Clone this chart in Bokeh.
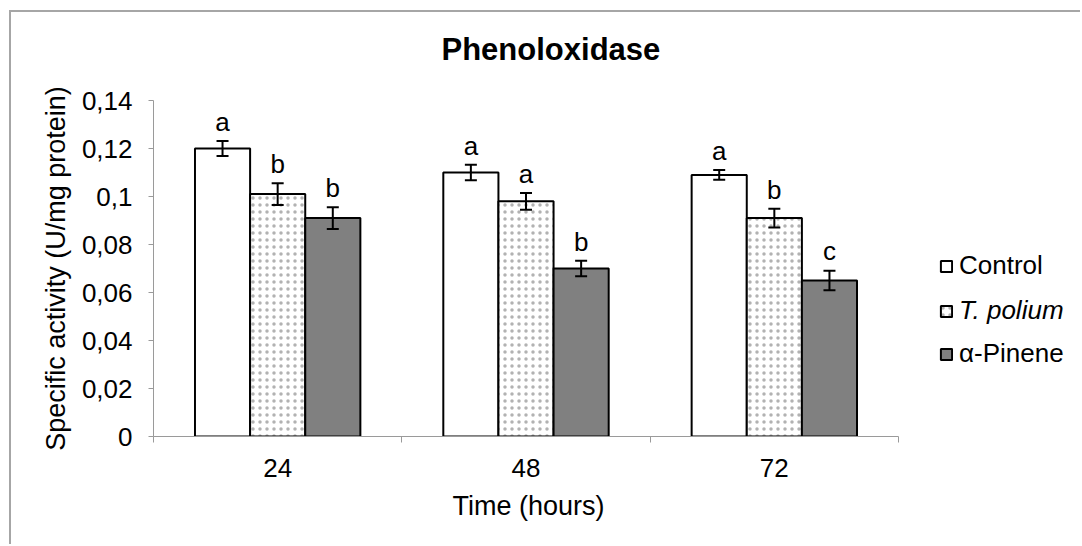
from bokeh.plotting import figure
from bokeh.models import (ColumnDataSource, Range1d, FixedTicker, Whisker, TeeHead,
                          Legend, LegendItem, Title)
from bokeh.core.properties import value
from bokeh.embed import file_html
from bokeh.resources import INLINE

# ---------------- data ----------------
times = ["24", "48", "72"]
series_names = ["Control", "T. polium", "α-Pinene"]
control = [0.120, 0.110, 0.109]
control_err = [0.0031, 0.0032, 0.0020]
control_letters = ["a", "a", "a"]
tpolium = [0.101, 0.098, 0.091]
tpolium_err = [0.0045, 0.0035, 0.0039]
tpolium_letters = ["b", "a", "b"]
pinene = [0.091, 0.070, 0.065]
pinene_err = [0.0045, 0.0032, 0.0041]
pinene_letters = ["b", "b", "c"]
y_ticks = [0, 0.02, 0.04, 0.06, 0.08, 0.1, 0.12, 0.14]
y_tick_labels = ["0", "0,02", "0,04", "0,06", "0,08", "0,1", "0,12", "0,14"]
y_max = 0.14
title_text = "Phenoloxidase"
x_title = "Time (hours)"
y_title = "Specific activity (U/mg protein)"

FONT = "Liberation Sans"
AXIS_GRAY = "#9a9a9a"

# geometry (pixels): canvas starts after a 2px border at (11, 12)
W, H = 1071, 534
plot_left, plot_top, plot_w, plot_bottom = 142, 88, 745, 110
frame_w = W - plot_left
x_end = len(times) * frame_w / plot_w

p = figure(width=W, height=H, output_backend="svg", toolbar_location=None,
           x_range=Range1d(0, x_end), y_range=Range1d(0, y_max),
           min_border_left=plot_left, min_border_right=0, min_border_top=plot_top,
           min_border_bottom=plot_bottom, title_location=None)
p.margin = (10, 0, 0, 9)
p.styles = {"border-left": "2px solid #a6a6a6", "border-top": "2px solid #a6a6a6"}
p.outline_line_color = None
p.xgrid.grid_line_color = None
p.ygrid.grid_line_color = None
p.background_fill_color = "white"
p.border_fill_color = "white"

centers = [i + 0.5 for i in range(len(times))]
bar_w = 0.222
offsets = [-bar_w, 0.0, bar_w]
letter_gap = 0.008  # gap between whisker cap and letter

styles = [
    dict(fill_color="white"),
    dict(fill_color="white", hatch_pattern="dot", hatch_color="black", hatch_alpha=0.3,
         hatch_scale=7, hatch_weight=0.5),
    dict(fill_color="#808080"),
]
vals = [control, tpolium, pinene]
errs = [control_err, tpolium_err, pinene_err]
lets = [control_letters, tpolium_letters, pinene_letters]

renderers = []
for k in range(3):
    upper = [v + e for v, e in zip(vals[k], errs[k])]
    src = ColumnDataSource(dict(
        x=[c + offsets[k] for c in centers],
        top=vals[k],
        upper=upper,
        lower=[v - e for v, e in zip(vals[k], errs[k])],
        ly=[u + letter_gap for u in upper],
        letter=lets[k],
    ))
    r = p.vbar(x="x", top="top", bottom=0, width=bar_w, source=src,
               line_color="black", line_width=2, **styles[k])
    renderers.append(r)
    w = Whisker(base="x", upper="upper", lower="lower", source=src, level="annotation",
                line_color="black", line_width=2,
                upper_head=TeeHead(size=12, line_color="black", line_width=2),
                lower_head=TeeHead(size=12, line_color="black", line_width=2))
    p.add_layout(w)
    p.text(x="x", y="ly", text="letter", source=src, text_align="center",
           text_baseline="alphabetic", text_font=value(FONT),
           text_font_size="26px", text_color="black")

# ---------------- axes ----------------
xa = p.xaxis[0]
xa.bounds = (0, len(times))
xa.ticker = FixedTicker(ticks=centers, minor_ticks=list(range(len(times) + 1)))
xa.major_label_overrides = {c: t for c, t in zip(centers, times)}
xa.major_tick_out = 0
xa.major_tick_in = 0
xa.minor_tick_out = 6
xa.minor_tick_in = 0
xa.minor_tick_line_color = AXIS_GRAY
xa.axis_line_color = AXIS_GRAY
xa.major_label_standoff = 16
xa.major_label_text_font = FONT
xa.major_label_text_font_size = "26px"
xa.major_label_text_color = "black"

# x-axis title, placed under the category axis (frame is wider than the axis)
p.add_layout(Title(text=x_title, align="left", offset=299, standoff=19,
                   text_font=FONT, text_font_size="27px", text_font_style="normal",
                   text_color="black"), "below")

ya = p.yaxis[0]
ya.ticker = FixedTicker(ticks=y_ticks, minor_ticks=[])
ya.major_label_overrides = {t: l for t, l in zip(y_ticks, y_tick_labels)}
ya.major_tick_out = 5
ya.major_tick_in = 0
ya.major_tick_line_color = AXIS_GRAY
ya.minor_tick_line_color = None
ya.axis_line_color = AXIS_GRAY
ya.major_label_standoff = 16
ya.major_label_text_font = FONT
ya.major_label_text_font_size = "26px"
ya.major_label_text_color = "black"
ya.axis_label = y_title
ya.axis_label_text_font = FONT
ya.axis_label_text_font_size = "27px"
ya.axis_label_text_font_style = "normal"
ya.axis_label_text_color = "black"
ya.axis_label_standoff = 8

# ---------------- title (a thin spacer panel lifts it above the frame) ----------------
p.add_layout(Title(text=" ", text_font_size="1px", standoff=26), "above")
p.add_layout(Title(text=title_text, align="left", offset=288, standoff=10,
                   text_font=FONT, text_font_size="31px", text_font_style="bold",
                   text_color="black"), "above")

# ---------------- legends ----------------
leg_y = [155, 110, 67]
leg_style = ["normal", "italic", "normal"]
for k in range(3):
    lg = Legend(items=[LegendItem(label=series_names[k], renderers=[renderers[k]])],
                location=(786, leg_y[k]), padding=0, margin=0, spacing=0,
                glyph_width=14, glyph_height=14, label_standoff=6,
                label_text_font=FONT, label_text_font_size="26px",
                label_text_font_style=leg_style[k], label_text_color="black",
                border_line_color=None, background_fill_alpha=0)
    p.add_layout(lg)

open("out.html", "w").write(file_html(p, INLINE))
